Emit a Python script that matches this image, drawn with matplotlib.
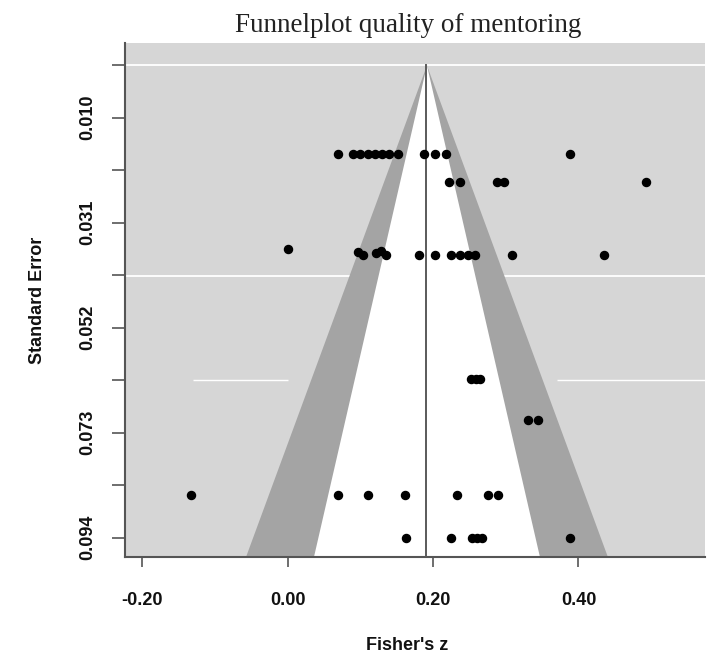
import matplotlib
matplotlib.use("Agg")
import matplotlib.pyplot as plt
import numpy as np

# ---- data ----
mean_effect = 0.191
fisher_z = [0.070, 0.090, 0.100, 0.110, 0.120, 0.130, 0.140, 0.152, 0.188, 0.203, 0.218, 0.388,
            0.222, 0.237, 0.288, 0.297, 0.493,
            0.000, 0.097, 0.104, 0.122, 0.129, 0.135,
            0.181, 0.203, 0.225, 0.237, 0.248, 0.258, 0.308, 0.435,
            0.252, 0.259, 0.265,
            0.331, 0.344,
            -0.132, 0.070, 0.111, 0.162, 0.233, 0.276, 0.290,
            0.163, 0.225, 0.253, 0.260, 0.267, 0.388]
std_err = [0.0177] * 12 + [0.0233] * 5 + \
          [0.0367, 0.0373, 0.0380, 0.0376, 0.0372, 0.0380] + \
          [0.0380] * 8 + [0.0628] * 3 + [0.0710] * 2 + [0.0860] * 7 + [0.0946] * 6

x_ticks = [-0.20, 0.00, 0.20, 0.40]
x_tick_labels = ["-0.20", "0.00", "0.20", "0.40"]
se_ticks = [0.0105, 0.0315, 0.0525, 0.0735, 0.0945]
se_tick_labels = ["0.010", "0.031", "0.052", "0.073", "0.094"]
se_minor_ticks = [0.0, 0.021, 0.042, 0.063, 0.084]
inner_z = 1.58
outer_z = 2.53

title = "Funnelplot quality of mentoring"
xlabel = "Fisher's z"
ylabel = "Standard Error"

# ---- figure ----
W, H = 719, 660
fig = plt.figure(figsize=(W / 100, H / 100), dpi=100)
ax = fig.add_axes([125 / W, 1 - 557 / H, 580 / W, 514 / H])
ax.set_facecolor("#d6d6d6")

xlim = (-0.2234, 0.5739)
ylim = (0.0984, -0.0044)
ax.set_xlim(*xlim)
ax.set_ylim(*ylim)

# faint white horizontal lines in the grey background
ax.axhline(0.0, color="white", lw=1.3, zorder=0.5)
ax.axhline(0.0422, color="white", lw=1.3, zorder=0.5)
ax.hlines(0.063, -0.13, 0.0, color="white", lw=1.0, zorder=0.5)
ax.hlines(0.063, 0.37, 0.58, color="white", lw=1.0, zorder=0.5)

se_grid = np.linspace(0, ylim[0], 200)
ax.fill_betweenx(se_grid, mean_effect - outer_z * se_grid, mean_effect + outer_z * se_grid,
                 color="#a4a4a4", lw=0, zorder=1)
ax.fill_betweenx(se_grid, mean_effect - inner_z * se_grid, mean_effect + inner_z * se_grid,
                 color="white", lw=0, zorder=2)
ax.plot([mean_effect, mean_effect], [0, ylim[0]], color="#5a5a5a", lw=1.4, zorder=3)

ax.plot(fisher_z, std_err, "o", color="black", ms=5.8, mec="black", zorder=4)

for s in ["top", "right"]:
    ax.spines[s].set_visible(False)
for s in ["left", "bottom"]:
    ax.spines[s].set_color("#555555")
    ax.spines[s].set_linewidth(1.5)

tick_font = dict(family=["Liberation Sans Narrow", "Liberation Sans", "DejaVu Sans"],
                 weight="bold", size=13)
ax.set_xticks(x_ticks)
ax.set_xticklabels(x_tick_labels, **tick_font)
ax.set_yticks(se_ticks)
ax.set_yticklabels(se_tick_labels, rotation=90, va="center", **tick_font)
ax.set_yticks(se_minor_ticks, minor=True)
ax.tick_params(axis="x", length=7, width=1.2, color="#555555", pad=18, labelcolor="#111111")
ax.tick_params(axis="y", which="both", length=9.5, width=1.2, color="#555555", pad=11,
               labelcolor="#111111")

fig.text(408 / W, 1 - 26 / H, title, ha="center", va="center",
         family=["Liberation Serif", "DejaVu Serif"], size=19.5, color="#222222")
fig.text(407 / W, 1 - 645 / H, xlabel, ha="center", va="center", **tick_font, color="#111111")
fig.text(37 / W, 1 - 300 / H, ylabel, ha="center", va="center", rotation=90, **tick_font,
         color="#111111")

fig.savefig("out.png", dpi=100)
